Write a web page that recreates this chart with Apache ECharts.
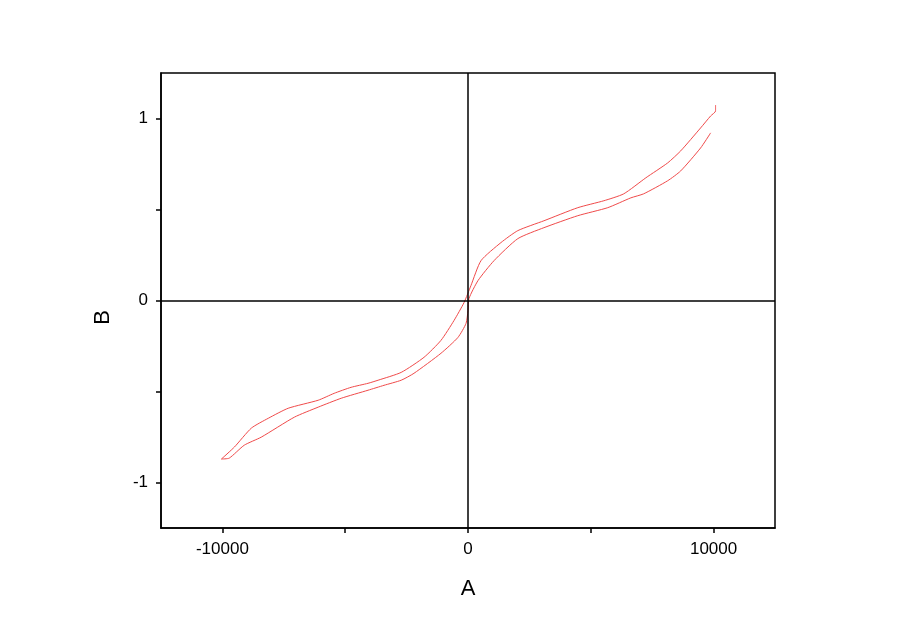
<!DOCTYPE html>
<html>
<head>
<meta charset="utf-8">
<script src="https://cdn.jsdelivr.net/npm/echarts@6/dist/echarts.min.js"></script>
<style>
  html, body { margin: 0; padding: 0; background: #fff; }
  #chart { width: 900px; height: 635px; }
</style>
</head>
<body>
<div id="chart"></div>
<script>
// branch 1: bottom-left tip -> through origin (left side) -> top-right end
const branch1A = [-10040, -9510, -8820, -8130, -7320, -6100, -5450, -4760, -4070, -3660, -2720, -1790, -1100, -570, -160, 120, 530, 1340, 2030, 3090, 4470, 5530, 6340, 7240, 8130, 8660, 9470, 9880, 10080, 10080]
const branch1B = [-0.871, -0.805, -0.701, -0.647, -0.592, -0.548, -0.510, -0.477, -0.455, -0.438, -0.395, -0.312, -0.219, -0.110, -0.011, 0.082, 0.219, 0.318, 0.384, 0.438, 0.510, 0.548, 0.586, 0.674, 0.756, 0.822, 0.948, 1.014, 1.041, 1.074]

// branch 2: bottom-left tip -> through origin (right side) -> lower top-right end
const branch2A = [-10040, -9720, -9110, -8420, -7070, -6100, -5160, -4070, -3420, -2720, -2200, -1100, -410, -80, 0, 40, 410, 1060, 2030, 3090, 4470, 5690, 6630, 7150, 8130, 8660, 9470, 9880]
const branch2B = [-0.871, -0.866, -0.795, -0.751, -0.641, -0.586, -0.537, -0.493, -0.466, -0.438, -0.400, -0.290, -0.203, -0.126, -0.055, 0.011, 0.110, 0.219, 0.340, 0.400, 0.466, 0.510, 0.564, 0.586, 0.658, 0.712, 0.838, 0.921]

const xTicks = [-10000, -5000, 0, 5000, 10000]
const xLabels = [-10000, 0, 10000]
const yTicks = [-1, -0.5, 0, 0.5, 1]
const yLabels = [-1, 0, 1]

const lineColor = '#f04a4a'
const fontFamily = 'Liberation Sans, Arial, sans-serif'
const labelFont = { color: '#000', fontSize: 17, fontFamily: fontFamily }

function pairs(xs, ys) {
  return xs.map((x, i) => [x, ys[i]])
}

function onlyLabels(list) {
  return v => (list.indexOf(v) >= 0 ? String(v) : '')
}

const chart = echarts.init(document.getElementById('chart'))
chart.setOption({
  backgroundColor: '#fff',
  animation: false,
  grid: { left: 161, right: 125, top: 73, bottom: 107, show: true, borderColor: '#000', borderWidth: 1.5, backgroundColor: 'transparent' },
  xAxis: {
    type: 'value',
    min: -12500, max: 12500,
    name: 'A', nameLocation: 'middle', nameGap: 50,
    nameTextStyle: { color: '#000', fontSize: 22, fontFamily: fontFamily },
    splitLine: { show: false },
    axisLine: { show: true, onZero: false, lineStyle: { color: '#000', width: 1.5 } },
    axisTick: { show: true, length: 5, customValues: xTicks, lineStyle: { color: '#000', width: 1.5 } },
    axisLabel: { show: true, margin: 13, customValues: xTicks, formatter: onlyLabels(xLabels), ...labelFont },
  },
  yAxis: {
    type: 'value',
    min: -1.25, max: 1.25,
    name: 'B', nameLocation: 'middle', nameGap: 47,
    nameTextStyle: { color: '#000', fontSize: 22, fontFamily: fontFamily, padding: [0, 0, 0, -34] },
    splitLine: { show: false },
    axisLine: { show: true, onZero: false, lineStyle: { color: '#000', width: 1.5 } },
    axisTick: { show: true, length: 5, customValues: yTicks, lineStyle: { color: '#000', width: 1.5 } },
    axisLabel: { show: true, margin: 13, customValues: yTicks, formatter: onlyLabels(yLabels), ...labelFont },
  },
  series: [
    {
      type: 'line',
      data: pairs(branch1A, branch1B),
      showSymbol: false,
      smooth: 0.2,
      lineStyle: { color: lineColor, width: 1 },
      markLine: {
        silent: true,
        symbol: 'none',
        label: { show: false },
        lineStyle: { color: '#000', width: 1.5, type: 'solid' },
        data: [{ xAxis: 0 }, { yAxis: 0 }],
      },
    },
    {
      type: 'line',
      data: pairs(branch2A, branch2B),
      showSymbol: false,
      smooth: 0.2,
      lineStyle: { color: lineColor, width: 1 },
    },
  ],
})
</script>
</body>
</html>
